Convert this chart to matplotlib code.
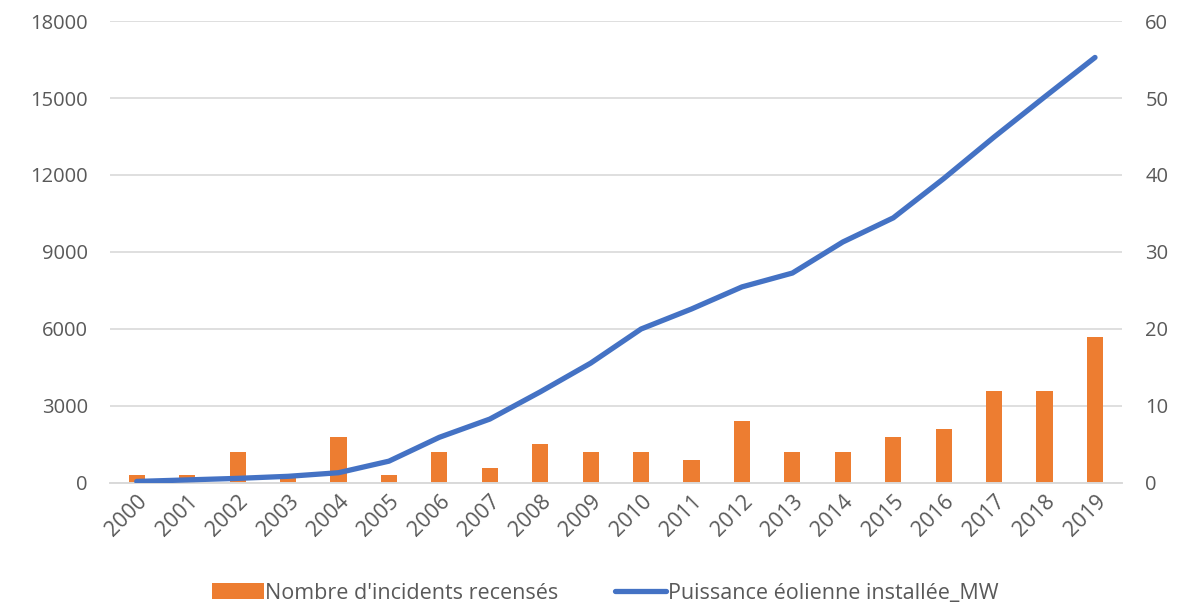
import matplotlib
matplotlib.use("Agg")
import matplotlib.pyplot as plt
from matplotlib.patches import Patch
from matplotlib.lines import Line2D

plt.rcParams['font.family'] = ['Open Sans', 'DejaVu Sans']

years = [str(y) for y in range(2000, 2020)]
incidents = [1, 1, 4, 1, 6, 1, 4, 2, 5, 4, 4, 3, 8, 4, 4, 6, 7, 12, 12, 19]
puissance_mw = [60, 120, 180, 260, 400, 850, 1780, 2490, 3550, 4670, 6000,
                6780, 7640, 8180, 9390, 10330, 11860, 13480, 15040, 16580]

left_ticks = [0, 3000, 6000, 9000, 12000, 15000, 18000]
right_ticks = [0, 10, 20, 30, 40, 50, 60]

text_color = '#595959'
grid_color = '#D9D9D9'
bar_color = '#ED7D31'
line_color = '#4472C4'

fig = plt.figure(figsize=(12.01, 6.07), dpi=100)
ax = fig.add_axes([0.0916, 0.2043, 0.8424, 0.7611])
ax2 = ax.twinx()

x = list(range(len(years)))

# incidents on the right-hand scale, drawn beneath the line
ax2.bar(x, incidents, width=0.32, color=bar_color, zorder=2)
ax2.set_ylim(0, 60)
ax2.set_yticks(right_ticks)
ax2.grid(axis='y', color=grid_color, linewidth=1.2, zorder=0)
ax2.set_axisbelow(True)

# installed power on the left-hand scale
ax.plot(x, puissance_mw, color=line_color, linewidth=3.8,
        solid_capstyle='round', solid_joinstyle='round', zorder=3)
ax.set_ylim(0, 18000)
ax.set_yticks(left_ticks)
ax.set_xlim(-0.53, 19.53)
ax.set_xticks(x)
ax.set_xticklabels(years, rotation=45, ha='right', va='top',
                   rotation_mode='anchor')

ax.set_zorder(ax2.get_zorder() + 1)
ax.patch.set_visible(False)

for a in (ax, ax2):
    for side in ('top', 'left', 'right'):
        a.spines[side].set_visible(False)
    a.spines['bottom'].set_color(grid_color)
    a.spines['bottom'].set_linewidth(1.2)
    a.tick_params(length=0, labelsize=14.5, labelcolor=text_color)

ax.tick_params(axis='x', labelsize=15.5, pad=6)
ax.tick_params(axis='y', pad=16)
ax2.tick_params(axis='y', pad=17)

handles = [Patch(facecolor=bar_color, edgecolor='none'),
           Line2D([0], [0], color=line_color, linewidth=3.8,
                  solid_capstyle='round')]
labels = ["Nombre d'incidents recensés", "Puissance éolienne installée_MW"]
fig.legend(handles, labels, loc='center', bbox_to_anchor=(0.504, 0.023),
           ncol=2, frameon=False, fontsize=15.5, labelcolor=text_color,
           handlelength=2.4, handletextpad=0.08, columnspacing=2.6)

fig.savefig('out.png', dpi=100, facecolor='white')
